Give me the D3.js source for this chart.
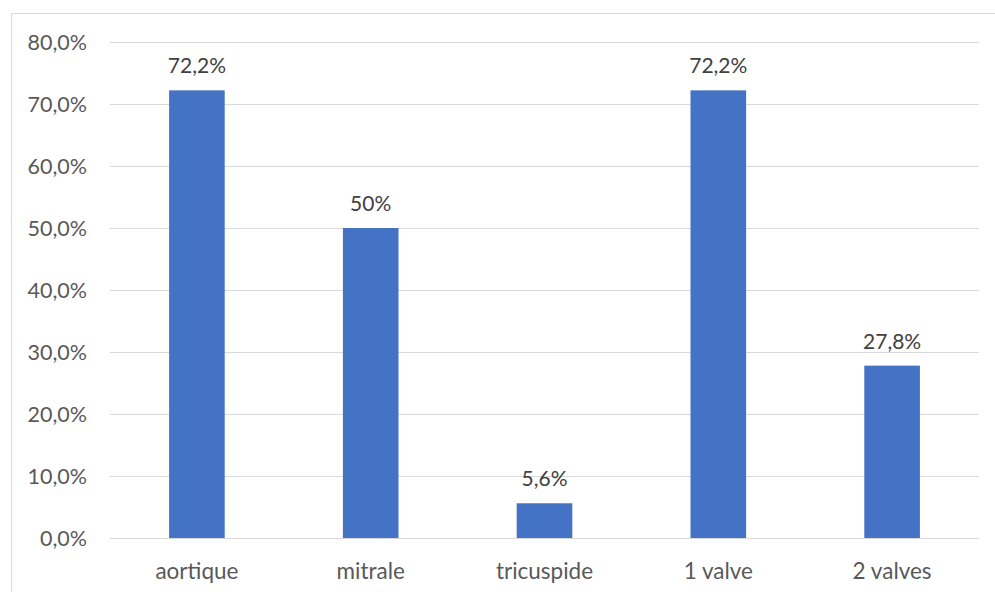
<!DOCTYPE html>
<html>
<head>
<meta charset="utf-8">
<script src="https://cdn.jsdelivr.net/npm/d3@7"></script>
<style>
  html, body { margin: 0; padding: 0; background: #fff; }
  svg { display: block; }
</style>
</head>
<body>
<svg id="chart" width="995" height="592"></svg>
<script>
// Share of patients by affected valve
const categories = ["aortique", "mitrale", "tricuspide", "1 valve", "2 valves"];
const values = [72.2, 50, 5.6, 72.2, 27.8];
const valueLabels = ["72,2%", "50%", "5,6%", "72,2%", "27,8%"];
const yTicks = [0, 10, 20, 30, 40, 50, 60, 70, 80];

const svg = d3.select("#chart");
const font = "Lato, 'Open Sans', sans-serif";

// chart frame
svg.append("rect")
  .attr("x", 11.5).attr("y", 13.5)
  .attr("width", 1000).attr("height", 600)
  .attr("fill", "#fff").attr("stroke", "#d9d9d9").attr("stroke-width", 1);

const plot = { left: 110, right: 979, top: 42, bottom: 538 };

const x = d3.scaleBand()
  .domain(categories)
  .range([plot.left, plot.right])
  .paddingInner(0.68)
  .paddingOuter(0.34);

const y = d3.scaleLinear()
  .domain([0, 80])
  .range([plot.bottom, plot.top]);

// horizontal gridlines
svg.append("g")
  .selectAll("line")
  .data(yTicks)
  .join("line")
  .attr("x1", plot.left).attr("x2", plot.right)
  .attr("y1", d => Math.round(y(d)) + 0.5)
  .attr("y2", d => Math.round(y(d)) + 0.5)
  .attr("stroke", "#d9d9d9").attr("stroke-width", 1);

// y tick labels
const fmt = d => d3.format(".1f")(d).replace(".", ",") + "%";
svg.append("g")
  .selectAll("text")
  .data(yTicks)
  .join("text")
  .attr("x", 87)
  .attr("y", d => y(d))
  .attr("dy", "0.36em")
  .attr("text-anchor", "end")
  .attr("font-family", font)
  .attr("font-size", 21.5)
  .attr("fill", "#595959")
  .text(fmt);

// bars
svg.append("g")
  .selectAll("rect")
  .data(values)
  .join("rect")
  .attr("x", (d, i) => x(categories[i]))
  .attr("y", d => y(d))
  .attr("width", x.bandwidth())
  .attr("height", d => y(0) - y(d))
  .attr("fill", "#4472c4");

// value labels
svg.append("g")
  .selectAll("text")
  .data(values)
  .join("text")
  .attr("x", (d, i) => x(categories[i]) + x.bandwidth() / 2)
  .attr("y", d => y(d) - 17)
  .attr("text-anchor", "middle")
  .attr("font-family", font)
  .attr("font-size", 21)
  .attr("fill", "#404040")
  .text((d, i) => valueLabels[i]);

// category labels
svg.append("g")
  .selectAll("text")
  .data(categories)
  .join("text")
  .attr("x", d => x(d) + x.bandwidth() / 2)
  .attr("y", 579)
  .attr("text-anchor", "middle")
  .attr("font-family", font)
  .attr("font-size", 22.5)
  .attr("fill", "#595959")
  .text(d => d);
</script>
</body>
</html>
